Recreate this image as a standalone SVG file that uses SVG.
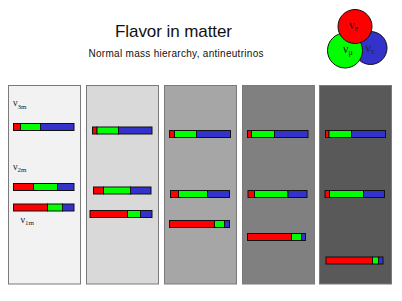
<svg xmlns="http://www.w3.org/2000/svg" width="402" height="301" viewBox="0 0 402 301">
<style>
.panel{stroke:#7a7a7a;stroke-width:1}
.r{fill:#ff0000;stroke:#111;stroke-width:1}
.g{fill:#00ff00;stroke:#111;stroke-width:1}
.b{fill:#3333cc;stroke:#111;stroke-width:1}
.title{font-family:"Liberation Sans",Arial,sans-serif;fill:#111}
.nu{font-family:"Liberation Serif","Times New Roman",serif;fill:#222}
.circ{stroke:#111;stroke-width:1}
</style>
<rect width="402" height="301" fill="#ffffff"/>
<g id="title">
<text class="title" x="173.5" y="37" font-size="17" text-anchor="middle" textLength="117">Flavor in matter</text>
<text class="title" x="176" y="57" font-size="10" text-anchor="middle" textLength="175">Normal mass hierarchy, antineutrinos</text>
</g>
<g id="legend">
<circle class="circ" cx="370.5" cy="48" r="16.5" fill="#3333cc"/>
<circle class="circ" cx="345" cy="50.5" r="17.5" fill="#00ff00"/>
<circle class="circ" cx="355" cy="26.5" r="17" fill="#ff0000"/>
<text class="nu" x="349" y="29" font-size="12">ν<tspan font-size="8" dy="2">e</tspan></text>
<text class="nu" x="343" y="53" font-size="12">ν<tspan font-size="8" dy="2">μ</tspan></text>
<text class="nu" x="365.5" y="52" font-size="12">ν<tspan font-size="8" dy="2">τ</tspan></text>
</g>
<g id="panels">
<rect class="panel" x="8.5" y="85.5" width="72" height="198.5" fill="#f2f2f2"/>
<rect class="panel" x="86.5" y="85.5" width="72" height="198.5" fill="#d9d9d9"/>
<rect class="panel" x="164.5" y="85.5" width="72" height="198.5" fill="#a6a6a6"/>
<rect class="panel" x="242.5" y="85.5" width="72" height="198.5" fill="#808080"/>
<rect class="panel" x="319.5" y="85.5" width="72" height="198.5" fill="#595959"/>
</g>
<g id="labels">
<text class="nu" x="13" y="106" font-size="10">ν<tspan font-size="7" dy="2.5">3m</tspan></text>
<text class="nu" x="13" y="169.5" font-size="10">ν<tspan font-size="7" dy="2.5">2m</tspan></text>
<text class="nu" x="20.5" y="222.5" font-size="10">ν<tspan font-size="7" dy="2.5">1m</tspan></text>
</g>
<g id="bars-p1">
<rect class="r" x="13.5" y="123.5" width="7" height="7"/><rect class="g" x="20.5" y="123.5" width="20" height="7"/><rect class="b" x="40.5" y="123.5" width="33.5" height="7"/>
<rect class="r" x="13.5" y="183.5" width="20" height="7"/><rect class="g" x="33.5" y="183.5" width="24" height="7"/><rect class="b" x="57.5" y="183.5" width="16.5" height="7"/>
<rect class="r" x="13.5" y="204" width="34" height="7"/><rect class="g" x="47.5" y="204" width="15" height="7"/><rect class="b" x="62.5" y="204" width="11.5" height="7"/>
</g>
<g id="bars-p2">
<rect class="r" x="92.5" y="127" width="4.5" height="7"/><rect class="g" x="97" y="127" width="21.5" height="7"/><rect class="b" x="118.5" y="127" width="33.5" height="7"/>
<rect class="r" x="93.5" y="187" width="10" height="7"/><rect class="g" x="103.5" y="187" width="27" height="7"/><rect class="b" x="130.5" y="187" width="20.5" height="7"/>
<rect class="r" x="90" y="210.5" width="37.5" height="7"/><rect class="g" x="127.5" y="210.5" width="13" height="7"/><rect class="b" x="140.5" y="210.5" width="11.5" height="7"/>
</g>
<g id="bars-p3">
<rect class="r" x="169.5" y="130.5" width="5" height="7"/><rect class="g" x="174.5" y="130.5" width="22" height="7"/><rect class="b" x="196.5" y="130.5" width="34" height="7"/>
<rect class="r" x="170.5" y="190.5" width="8" height="7"/><rect class="g" x="178.5" y="190.5" width="29" height="7"/><rect class="b" x="207.5" y="190.5" width="22" height="7"/>
<rect class="r" x="169.5" y="220.5" width="45" height="7"/><rect class="g" x="214.5" y="220.5" width="10" height="7"/><rect class="b" x="224.5" y="220.5" width="5" height="7"/>
</g>
<g id="bars-p4">
<rect class="r" x="247.5" y="130.5" width="4" height="7"/><rect class="g" x="251.5" y="130.5" width="23" height="7"/><rect class="b" x="274.5" y="130.5" width="33.5" height="7"/>
<rect class="r" x="248" y="190.5" width="6.5" height="7"/><rect class="g" x="254.5" y="190.5" width="33.5" height="7"/><rect class="b" x="288" y="190.5" width="19" height="7"/>
<rect class="r" x="247.5" y="233.5" width="44" height="7"/><rect class="g" x="291.5" y="233.5" width="10" height="7"/><rect class="b" x="301.5" y="233.5" width="4" height="7"/>
</g>
<g id="bars-p5">
<rect class="r" x="325.5" y="130.5" width="3.5" height="7"/><rect class="g" x="329" y="130.5" width="22.5" height="7"/><rect class="b" x="351.5" y="130.5" width="34" height="7"/>
<rect class="r" x="325" y="190.5" width="4.5" height="7"/><rect class="g" x="329.5" y="190.5" width="34" height="7"/><rect class="b" x="363.5" y="190.5" width="21" height="7"/>
<rect class="r" x="326" y="257" width="46.5" height="7"/><rect class="g" x="372.5" y="257" width="6" height="7"/><rect class="b" x="378.5" y="257" width="4.5" height="7"/>
</g>
</svg>
